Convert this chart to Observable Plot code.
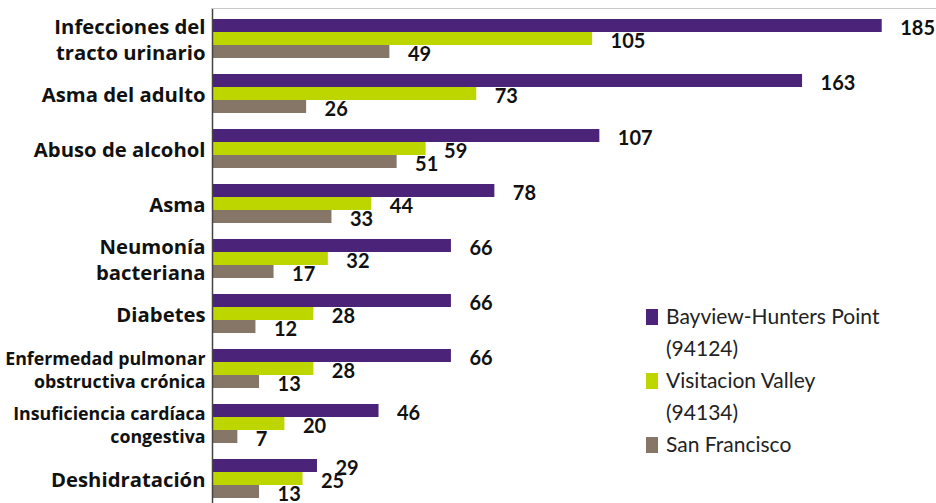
<!DOCTYPE html>
<html>
<head>
<meta charset="utf-8">
<script src="https://cdn.jsdelivr.net/npm/d3@7"></script>
<script src="https://cdn.jsdelivr.net/npm/@observablehq/plot@0.6"></script>
<style>
  html, body { margin: 0; padding: 0; background: #fff; overflow: hidden; }
  #wrap { position: relative; width: 936px; height: 503px; overflow: hidden; }
  #legend { position: absolute; left: 646px; top: 300px; font-family: Lato, sans-serif; font-size: 21px; line-height: 32px; color: #222; }
  #legend .row { display: flex; align-items: baseline; white-space: nowrap; }
  #legend .sw { display: inline-block; width: 12px; height: 16px; margin-right: 8px; position: relative; top: 1px; }
  #legend .cont { padding-left: 20px; }
</style>
</head>
<body>
<div id="wrap">
  <div id="chart"></div>
  <div id="legend"></div>
</div>
<script>
const categories = [
  "Infecciones del\ntracto urinario",
  "Asma del adulto",
  "Abuso de alcohol",
  "Asma",
  "Neumonía\nbacteriana",
  "Diabetes",
  "Enfermedad pulmonar\nobstructiva crónica",
  "Insuficiencia cardíaca\ncongestiva",
  "Deshidratación"
];
const seriesNames = ["Bayview-Hunters Point", "Visitacion Valley", "San Francisco"];
const seriesCodes = ["(94124)", "(94134)", ""];
const bayview = [185, 163, 107, 78, 66, 66, 66, 46, 29];
const visitacion = [105, 73, 59, 44, 32, 28, 28, 20, 25];
const sanFrancisco = [49, 26, 51, 33, 17, 12, 13, 7, 13];
const colors = ["#4b2479", "#bed600", "#867668"];

const seriesValues = [bayview, visitacion, sanFrancisco];
const rows = seriesValues.map((vals, s) => vals.map((v, i) => ({category: categories[i], series: s, value: v})));

const barH = 13;
const longest = d => Math.max(...d.split("\n").map(l => l.length));
const marks = [];
rows.forEach((data, s) => {
  marks.push(Plot.barX(data, {
    x: "value", y: "category", fill: colors[s],
    insetTop: s * barH, insetBottom: (2 - s) * barH
  }));
});
rows.forEach((data, s) => {
  marks.push(Plot.text(data, {
    x: "value", y: "category", text: d => String(d.value),
    textAnchor: "start", dx: 18, dy: (s - 1) * barH + 2.5,
    fontSize: 20, fontWeight: "bold", fill: "#111"
  }));
});
marks.push(Plot.text(categories, {
  y: d => d, text: d => d, frameAnchor: "left", textAnchor: "end", dx: -7,
  fontFamily: "'Open Sans', sans-serif",
  fontSize: d => longest(d) > 17 ? 17.8 : 20.3,
  fontWeight: "bold", lineHeight: 1.27, fill: "#111"
}));
marks.push(Plot.ruleX([0], {stroke: "#444", strokeWidth: 1.5}));
marks.push(Plot.frame({anchor: "top", stroke: "#c8c8c8"}));

const chart = Plot.plot({
  width: 936,
  height: 509,
  marginTop: 8,
  marginBottom: 0,
  marginLeft: 212,
  marginRight: 0,
  style: {fontFamily: "Lato, sans-serif", background: "#fff"},
  x: {domain: [0, 200], axis: null},
  y: {domain: categories, paddingInner: 0.297, paddingOuter: 0.162, axis: null},
  marks
});
document.getElementById("chart").appendChild(chart);

const legend = document.getElementById("legend");
seriesNames.forEach((name, i) => {
  const row = document.createElement("div");
  row.className = "row";
  const sw = document.createElement("span");
  sw.className = "sw";
  sw.style.background = colors[i];
  row.appendChild(sw);
  row.appendChild(document.createTextNode(name));
  legend.appendChild(row);
  if (seriesCodes[i]) {
    const c = document.createElement("div");
    c.className = "cont";
    c.textContent = seriesCodes[i];
    legend.appendChild(c);
  }
});
</script>
</body>
</html>
